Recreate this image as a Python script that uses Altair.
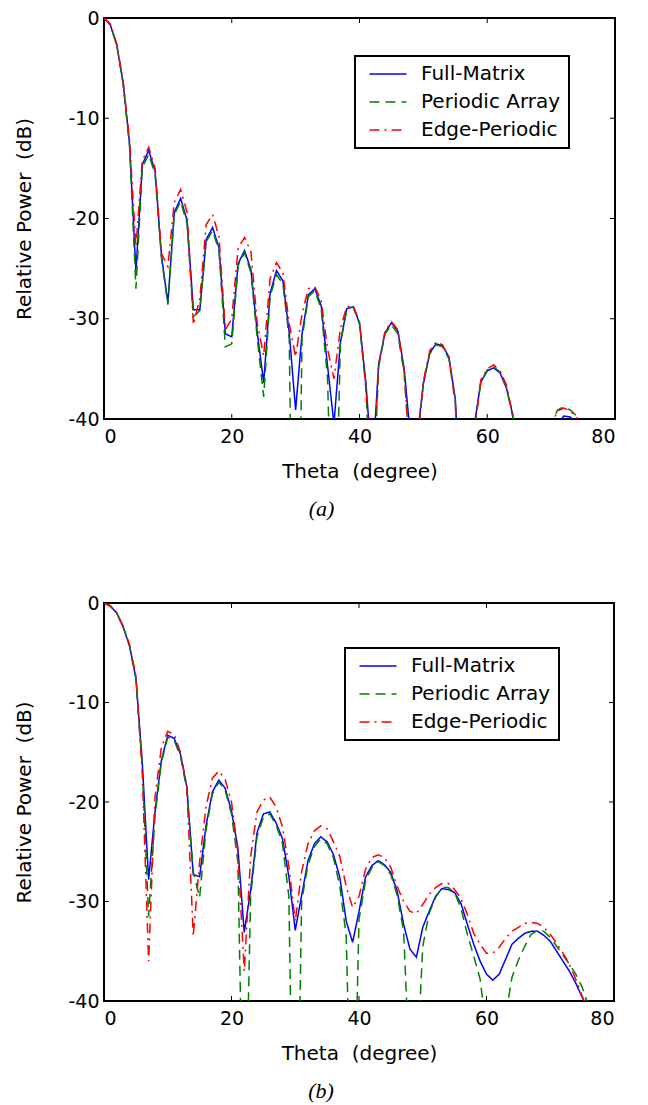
import altair as alt
import pandas as pd

FONT = "DejaVu Sans"

series_names = ["Full-Matrix", "Periodic Array", "Edge-Periodic"]
series_colors = ["#0000ff", "#008000", "#ff0000"]
series_dashes = [[1, 0], [10, 6], [10, 5, 2, 5]]

x_ticks = [0, 20, 40, 60, 80]
y_ticks = [-40, -30, -20, -10, 0]
x_inner_ticks = [20, 40, 60]
y_inner_ticks = [-30, -20, -10]

# ---------- panel (a) ----------
theta_a = list(range(0, 76))
full_a = [0, -0.7, -2.7, -6.5, -12.5, -25.3, -14.6, -13.2, -15.3, -23.7,
          -28.4, -19.4, -18.0, -20.2, -29.1, -29.1, -22.1, -20.9, -22.9, -31.5,
          -31.8, -24.5, -23.2, -25.1, -31.4, -36.4, -27.5, -25.2, -26.2, -31.4,
          -39.1, -31.5, -27.6, -27.0, -28.7, -34.7, -40.5, -32.4, -29.0, -28.8,
          -30.4, -36.4, -45.0, -34.5, -31.4, -30.4, -31.2, -35.0, -42.0, -42.0,
          -36.5, -33.4, -32.5, -32.7, -33.8, -38.0, -50.0, -50.0, -40.5, -36.3,
          -35.2, -34.9, -35.4, -36.9, -39.6, -50.0, -50.0, -50.0, -50.0, -50.0,
          -43.0, -40.4, -39.7, -39.8, -40.6, -45.0]
periodic_a = [0, -0.7, -2.7, -6.6, -12.8, -27.0, -14.9, -13.6, -15.6, -24.0,
              -28.6, -19.6, -18.3, -20.5, -29.8, -29.2, -22.3, -21.2, -23.2, -32.8,
              -32.5, -24.7, -23.4, -25.4, -32.0, -37.8, -27.8, -25.6, -26.5, -32.0,
              -80.0, -32.0, -27.8, -27.2, -29.0, -36.0, -60.0, -32.6, -29.1, -28.8,
              -30.5, -37.0, -50.0, -34.8, -31.5, -30.6, -31.5, -35.5, -45.0, -43.0,
              -36.3, -33.5, -32.6, -32.8, -34.0, -38.4, -55.0, -55.0, -41.0, -36.3,
              -35.1, -34.8, -35.3, -36.8, -39.8, -55.0, -55.0, -55.0, -55.0, -50.0,
              -40.6, -39.1, -38.8, -39.1, -39.7, -44.0]
edge_a = [0, -0.6, -2.6, -6.3, -12.2, -22.8, -14.2, -12.9, -15.0, -23.5,
          -24.8, -18.4, -17.1, -19.4, -30.6, -28.0, -20.6, -19.6, -21.8, -31.1,
          -30.0, -22.9, -21.9, -23.3, -30.5, -33.7, -26.0, -24.4, -25.4, -30.5,
          -33.8, -29.5, -27.0, -26.8, -28.2, -33.0, -36.0, -31.0, -28.8, -28.7,
          -30.3, -36.6, -48.0, -34.6, -31.2, -30.3, -31.1, -35.3, -45.0, -43.0,
          -36.2, -33.2, -32.3, -32.6, -33.9, -38.2, -55.0, -55.0, -41.0, -36.1,
          -35.0, -34.6, -35.2, -36.6, -39.6, -55.0, -55.0, -55.0, -55.0, -50.0,
          -40.6, -39.2, -38.9, -39.2, -39.8, -44.0]

# ---------- panel (b) ----------
theta_b = list(range(0, 77))
full_b = [0, -0.3, -1.0, -2.4, -4.3, -7.5, -16.0, -27.8, -21.0, -15.8,
          -13.3, -13.6, -15.2, -18.5, -27.3, -27.5, -22.4, -19.0, -17.8, -18.6,
          -20.9, -24.6, -33.1, -28.9, -23.1, -21.2, -21.0, -22.1, -23.7, -27.5,
          -32.9, -29.4, -25.9, -24.2, -23.5, -24.0, -25.3, -27.6, -32.0, -34.1,
          -31.0, -27.6, -26.4, -25.9, -26.3, -27.1, -29.0, -32.3, -34.8, -35.6,
          -32.6, -31.0, -29.5, -28.7, -28.8, -29.1, -30.2, -32.3, -34.3, -36.0,
          -37.3, -37.9, -37.3, -35.8, -34.3, -33.7, -33.2, -33.0, -33.0, -33.4,
          -34.0, -35.0, -36.0, -37.0, -38.2, -39.6, -41.0]
periodic_b = [0, -0.3, -1.0, -2.4, -4.3, -7.6, -16.4, -31.5, -21.4, -16.0,
              -13.5, -13.8, -15.4, -18.8, -27.0, -29.6, -22.8, -19.2, -18.0, -18.8,
              -21.2, -26.0, -60.0, -29.5, -23.5, -21.5, -21.2, -22.3, -24.2, -29.5,
              -70.0, -30.0, -26.3, -24.5, -23.7, -24.2, -25.6, -28.5, -33.5, -60.0,
              -31.8, -28.0, -26.6, -26.0, -26.4, -27.3, -29.4, -33.0, -48.0, -48.0,
              -34.5, -31.2, -29.6, -28.6, -28.6, -29.1, -30.7, -33.3, -35.5, -37.8,
              -43.0, -60.0, -55.0, -41.5, -37.6, -35.9, -34.5, -33.3, -32.9, -33.0,
              -33.6, -34.5, -35.4, -36.3, -37.3, -38.6, -40.5]
edge_b = [0, -0.3, -1.0, -2.3, -4.2, -7.3, -17.0, -36.0, -19.5, -14.5,
          -12.9, -13.2, -15.0, -18.5, -33.5, -26.0, -20.5, -17.6, -16.9, -17.7,
          -20.0, -25.0, -37.0, -25.5, -21.0, -19.8, -19.5, -20.5, -22.5, -26.5,
          -32.0, -27.0, -24.2, -22.9, -22.4, -22.7, -24.0, -25.5, -28.5, -30.6,
          -29.5, -26.8, -25.6, -25.3, -25.6, -26.6, -28.5, -30.0, -31.0, -31.2,
          -30.3, -29.3, -28.6, -28.2, -28.2, -28.8, -29.7, -31.3, -33.2, -34.3,
          -35.2, -35.2, -34.6, -33.7, -33.0, -32.6, -32.2, -32.1, -32.2, -32.6,
          -33.3, -34.2, -35.2, -36.3, -37.8, -39.5, -41.0]


def long_df(theta, full, per, edge):
    rows = []
    for name, vals in zip(series_names, [full, per, edge]):
        for t, v in zip(theta, vals):
            rows.append({"theta": t, "db": v, "series": name})
    return pd.DataFrame(rows)


def panel(df, W, H, lx, ly, caption):
    x_enc = alt.X("theta:Q", scale=alt.Scale(domain=[0, 80], nice=False, zero=False),
                  axis=alt.Axis(values=x_ticks, title="Theta\u00a0 (degree)",
                                labelExpr="'' + datum.value"))
    y_enc = alt.Y("db:Q", scale=alt.Scale(domain=[-40, 0], nice=False, zero=False),
                  axis=alt.Axis(values=y_ticks, title="Relative Power\u00a0 (dB)",
                                labelExpr="'' + datum.value"))
    leg = alt.Legend(title=None, orient="none", legendX=lx, legendY=ly)
    lines = alt.Chart(df).mark_line(clip=True, strokeWidth=1.5).encode(
        x=x_enc, y=y_enc,
        color=alt.Color("series:N", sort=series_names,
                        scale=alt.Scale(domain=series_names, range=series_colors), legend=leg),
        strokeDash=alt.StrokeDash("series:N", sort=series_names,
                                  scale=alt.Scale(domain=series_names, range=series_dashes), legend=leg),
    )
    xt = pd.DataFrame({"theta": x_inner_ticks})
    yt = pd.DataFrame({"db": y_inner_ticks})
    t_top = alt.Chart(xt).mark_rule(color="black", strokeWidth=1).encode(
        x=x_enc, y=alt.value(0), y2=alt.value(5))
    t_bot = alt.Chart(xt).mark_rule(color="black", strokeWidth=1).encode(
        x=x_enc, y=alt.value(H - 5), y2=alt.value(H))
    t_left = alt.Chart(yt).mark_rule(color="black", strokeWidth=1).encode(
        y=y_enc, x=alt.value(0), x2=alt.value(5))
    t_right = alt.Chart(yt).mark_rule(color="black", strokeWidth=1).encode(
        y=y_enc, x=alt.value(W - 5), x2=alt.value(W))
    return alt.layer(lines, t_top, t_bot, t_left, t_right).properties(
        width=W, height=H,
        title=alt.TitleParams(caption, orient="bottom", font="Liberation Serif",
                              fontStyle="italic", fontWeight="normal", fontSize=22,
                              color="black", anchor="middle", dx=-38, offset=18),
    )


top = panel(long_df(theta_a, full_a, periodic_a, edge_a), 511, 401, 251, 38, "(a)")
bottom = panel(long_df(theta_b, full_b, periodic_b, edge_b), 510, 398, 241, 45, "(b)")

chart = alt.vconcat(top, bottom, spacing=72).resolve_scale(
    color="independent", strokeDash="independent"
).resolve_legend(color="independent", strokeDash="independent").properties(
    padding={"left": 5, "top": 0, "right": 5, "bottom": 0}
).configure_view(
    stroke="black", strokeWidth=2
).configure_axis(
    domain=False, ticks=False, grid=False,
    labelFont=FONT, labelFontSize=19, labelColor="black",
    titleFont=FONT, titleFontSize=20, titleColor="black", titleFontWeight="normal",
).configure_axisX(
    labelPadding=8, titlePadding=15
).configure_axisY(
    labelPadding=5, titlePadding=33
).configure_legend(
    symbolType="M-2.2,0H2.2", symbolSize=283, symbolStrokeWidth=1.5,
    labelFont=FONT, labelFontSize=20, labelColor="black", labelOffset=23,
    strokeColor="black", strokeWidth=2, fillColor="white", padding=8, symbolOffset=15,
    rowPadding=8, cornerRadius=0,
)

chart.save("out.html", embed_options={"renderer": "svg", "actions": False})
